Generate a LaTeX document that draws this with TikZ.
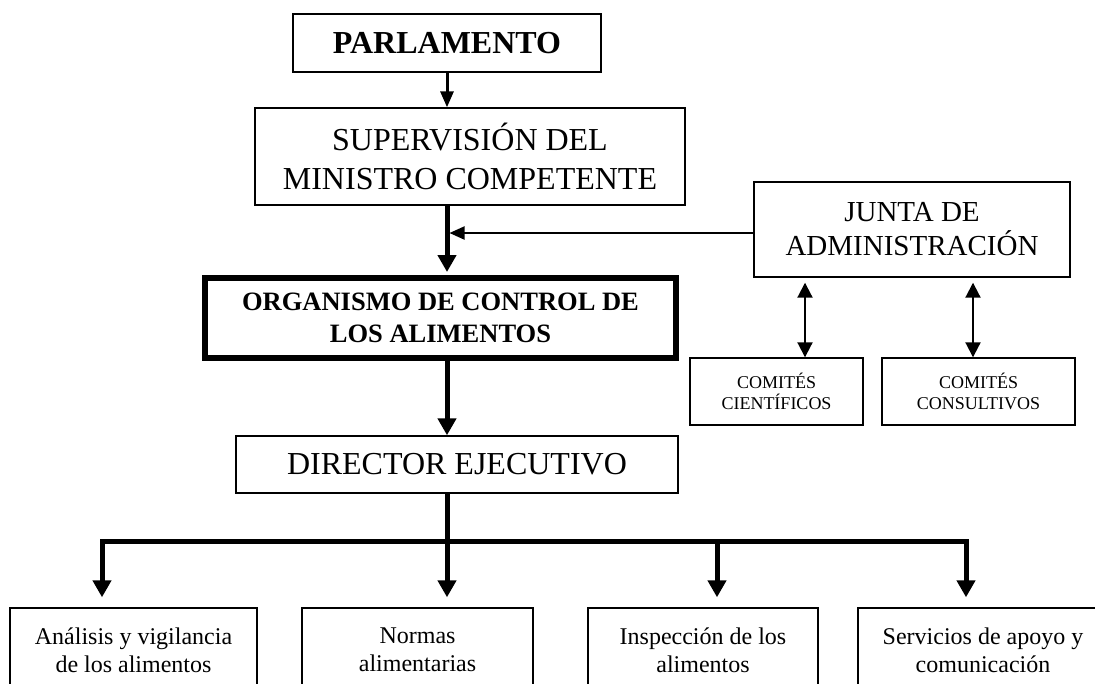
\documentclass[tikz,border=0pt]{standalone}
\usepackage{fontspec}
\setmainfont{Liberation Serif}
\usetikzlibrary{arrows.meta}
\begin{document}
\begin{tikzpicture}[x=1pt,y=-1pt,
  box/.style={draw, line width=1.4pt, inner sep=0pt, align=center},
  thickarr/.style={line width=5pt, -{Triangle[length=17pt,width=18pt]}},
  thinarr/.style={line width=3pt, -{Triangle[length=16pt,width=13pt]}},
  sidearr/.style={line width=2pt, -{Triangle[length=15pt,width=13pt]}},
  dblarr/.style={line width=2pt, {Triangle[length=15pt,width=15pt]}-{Triangle[length=15pt,width=15pt]}},
  bigtxt/.style={font=\fontsize{32}{39}\selectfont},
  bottxt/.style={font=\fontsize{24}{28}\selectfont}]
\path[use as bounding box, clip] (0,0) rectangle (1095,683);
\fill[white] (0,0) rectangle (1095,683);

\node[box, minimum width=308pt, minimum height=58pt, font=\bfseries\fontsize{32}{38}\selectfont] (parl) at (447,43) {PARLAMENTO};
\node[box, bigtxt, minimum width=430pt, minimum height=97pt] (sup) at (470,156.5) {SUPERVISIÓN DEL\\MINISTRO COMPETENTE};
\node[box, line width=6pt, minimum width=471pt, minimum height=80pt, font=\bfseries\fontsize{26.5}{32}\selectfont] (org) at (440.5,318) {ORGANISMO DE CONTROL DE\\LOS ALIMENTOS};
\node[box, minimum width=316pt, minimum height=95pt, font=\fontsize{29}{34}\selectfont] (junta) at (912,229.5) {JUNTA DE\\ADMINISTRACIÓN};
\node[box, minimum width=173pt, minimum height=67pt, font=\fontsize{18}{21}\selectfont] (cci) at (776.5,391.5) {COMITÉS\\CIENTÍFICOS};
\node[box, minimum width=193pt, minimum height=67pt, font=\fontsize{18}{21}\selectfont] (cco) at (978.5,391.5) {COMITÉS\\CONSULTIVOS};
\node[box, bigtxt, minimum width=442pt, minimum height=57pt] (dir) at (457,464.5) {DIRECTOR EJECUTIVO};

\node[box, bottxt, minimum width=247pt, minimum height=84pt] (b1) at (133.5,650) {Análisis y vigilancia\\de los alimentos};
\node[box, bottxt, minimum width=231pt, minimum height=84pt] (b2) at (417.5,650) {Normas\\alimentarias};
\node[box, bottxt, minimum width=230pt, minimum height=84pt] (b3) at (703,650) {Inspección de los\\alimentos};
\node[box, bottxt, minimum width=250pt, minimum height=84pt] (b4) at (983,650) {Servicios de apoyo y\\comunicación};

\coordinate (busL) at (102,541);
\coordinate (busC) at (447,541);
\coordinate (busT) at (717,541);
\coordinate (busR) at (966,541);
\coordinate (jw) at ([yshift=-3.5pt]junta.west);
\coordinate (d1) at ([xshift=28.5pt]cci.north);
\coordinate (d2) at ([xshift=-5.5pt]cco.north);

\draw[thinarr] (parl.south) -- (parl.south |- sup.north);
\draw[thickarr, shorten >=3pt] (sup.south -| parl.south) -- (org.north -| parl.south);
\draw[sidearr, shorten >=2.5pt] (jw) -- (jw -| parl.south);
\draw[dblarr, shorten <=5pt] (d1 |- junta.south) -- (d1);
\draw[dblarr, shorten <=5pt] (d2 |- junta.south) -- (d2);
\draw[thickarr] (org.south -| parl.south) -- (dir.north -| parl.south);

\draw[line width=5pt] (dir.south -| busC) -- (busC);
\draw[thickarr, shorten >=10pt] (busC) -- (busL) -- (busL |- b1.north);
\draw[thickarr, shorten >=10pt] (busC) -- (busR) -- (busR |- b4.north);
\draw[thickarr, shorten >=10pt] (busC) -- (busC |- b2.north);
\draw[thickarr, shorten >=10pt] (busT) -- (busT |- b3.north);
\end{tikzpicture}
\end{document}
